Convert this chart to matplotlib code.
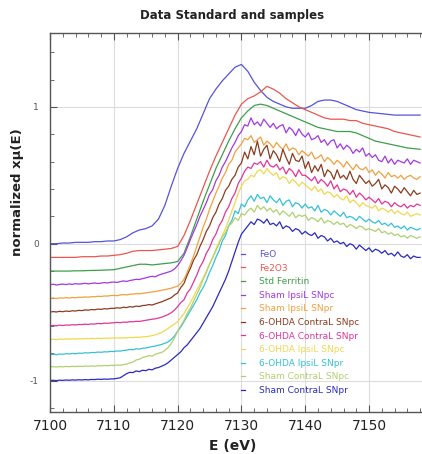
import numpy as np
import matplotlib
matplotlib.use("Agg")
import matplotlib.pyplot as plt
from matplotlib.ticker import MultipleLocator

plt.rcParams["axes.unicode_minus"] = False

# Energy grids (eV): standards read every 1 eV, samples every 0.5 eV
energy_std = np.arange(7100, 7159, 1.0)
energy_smp = np.arange(7100, 7158.5, 0.5)

feo = [0.000, 0.000, 0.005, 0.005, 0.010, 0.010, 0.010, 0.015, 0.015, 0.020,
       0.020, 0.030, 0.050, 0.080, 0.100, 0.110, 0.130, 0.180, 0.280, 0.420,
       0.550, 0.660, 0.750, 0.840, 0.950, 1.060, 1.130, 1.190, 1.240, 1.290,
       1.310, 1.260, 1.180, 1.120, 1.070, 1.040, 1.020, 1.000, 0.990, 0.990,
       0.990, 1.010, 1.040, 1.050, 1.050, 1.040, 1.020, 1.000, 0.980, 0.970,
       0.960, 0.955, 0.950, 0.945, 0.940, 0.940, 0.940, 0.940, 0.940]
fe2o3 = [-0.100, -0.100, -0.100, -0.100, -0.100, -0.095, -0.095, -0.095, -0.090, -0.090,
         -0.085, -0.080, -0.070, -0.055, -0.050, -0.050, -0.050, -0.045, -0.040, -0.035,
         -0.020, 0.060, 0.170, 0.290, 0.410, 0.530, 0.640, 0.740, 0.840, 0.940,
         1.020, 1.060, 1.080, 1.110, 1.150, 1.130, 1.100, 1.060, 1.030, 1.000,
         0.980, 0.960, 0.940, 0.920, 0.910, 0.910, 0.910, 0.900, 0.900, 0.880,
         0.870, 0.860, 0.850, 0.840, 0.820, 0.810, 0.800, 0.790, 0.780]
ferritin = [-0.200, -0.200, -0.200, -0.200, -0.198, -0.198, -0.196, -0.195, -0.194, -0.192,
            -0.190, -0.180, -0.170, -0.160, -0.150, -0.150, -0.155, -0.150, -0.145, -0.140,
            -0.130, -0.070, 0.050, 0.180, 0.310, 0.430, 0.550, 0.650, 0.750, 0.840,
            0.920, 0.970, 1.010, 1.020, 1.010, 0.990, 0.970, 0.950, 0.930, 0.910,
            0.890, 0.870, 0.850, 0.840, 0.830, 0.820, 0.820, 0.820, 0.810, 0.790,
            0.770, 0.750, 0.740, 0.730, 0.720, 0.710, 0.700, 0.695, 0.690]

sham_ipsi_snpc = [
    -0.300, -0.296, -0.302, -0.298, -0.295, -0.299, -0.294, -0.297, -0.292, -0.295,
    -0.293, -0.289, -0.294, -0.290, -0.287, -0.291, -0.288, -0.284, -0.287, -0.282,
    -0.280, -0.283, -0.277, -0.272, -0.276, -0.269, -0.265, -0.260, -0.262, -0.255,
    -0.250, -0.243, -0.238, -0.242, -0.230, -0.222, -0.215, -0.208, -0.200, -0.185,
    -0.160, -0.125, -0.085, -0.030, 0.030, 0.085, 0.140, 0.200, 0.250, 0.300,
    0.360, 0.395, 0.460, 0.500, 0.560, 0.600, 0.650, 0.700, 0.740, 0.790,
    0.820, 0.870, 0.860, 0.920, 0.870, 0.890, 0.860, 0.910, 0.880, 0.850,
    0.880, 0.840, 0.860, 0.870, 0.810, 0.850, 0.830, 0.790, 0.840, 0.800,
    0.780, 0.810, 0.760, 0.770, 0.790, 0.740, 0.760, 0.720, 0.750, 0.760,
    0.700, 0.730, 0.690, 0.720, 0.700, 0.660, 0.690, 0.670, 0.700, 0.640,
    0.660, 0.630, 0.650, 0.610, 0.600, 0.640, 0.590, 0.620, 0.580, 0.610,
    0.600, 0.590, 0.620, 0.580, 0.610, 0.600, 0.590]
sham_ipsi_snpr = [
    -0.400, -0.397, -0.401, -0.396, -0.398, -0.394, -0.397, -0.393, -0.395, -0.391,
    -0.392, -0.389, -0.391, -0.387, -0.388, -0.384, -0.386, -0.382, -0.383, -0.379,
    -0.378, -0.380, -0.375, -0.372, -0.374, -0.370, -0.368, -0.365, -0.366, -0.362,
    -0.360, -0.356, -0.352, -0.350, -0.345, -0.340, -0.336, -0.330, -0.325, -0.318,
    -0.310, -0.290, -0.260, -0.210, -0.150, -0.090, -0.020, 0.050, 0.120, 0.180,
    0.250, 0.310, 0.370, 0.420, 0.480, 0.520, 0.580, 0.610, 0.670, 0.700,
    0.730, 0.770, 0.760, 0.790, 0.740, 0.760, 0.780, 0.720, 0.750, 0.730,
    0.700, 0.740, 0.710, 0.690, 0.730, 0.680, 0.700, 0.690, 0.650, 0.680,
    0.660, 0.640, 0.670, 0.620, 0.630, 0.650, 0.600, 0.630, 0.610, 0.580,
    0.610, 0.590, 0.560, 0.600, 0.570, 0.540, 0.580, 0.550, 0.540, 0.560,
    0.520, 0.540, 0.500, 0.530, 0.510, 0.480, 0.520, 0.490, 0.500, 0.480,
    0.500, 0.470, 0.490, 0.500, 0.480, 0.470, 0.490]
ohda_contra_snpc = [
    -0.500, -0.496, -0.499, -0.494, -0.497, -0.492, -0.495, -0.490, -0.492, -0.487,
    -0.489, -0.484, -0.486, -0.481, -0.483, -0.478, -0.480, -0.475, -0.477, -0.472,
    -0.473, -0.468, -0.471, -0.464, -0.467, -0.460, -0.463, -0.456, -0.459, -0.452,
    -0.450, -0.445, -0.448, -0.440, -0.432, -0.425, -0.415, -0.405, -0.395, -0.375,
    -0.360, -0.320, -0.290, -0.230, -0.180, -0.120, -0.080, -0.020, 0.030, 0.090,
    0.130, 0.190, 0.230, 0.290, 0.330, 0.390, 0.420, 0.470, 0.500, 0.560,
    0.590, 0.670, 0.620, 0.710, 0.650, 0.750, 0.640, 0.690, 0.720, 0.620,
    0.680, 0.650, 0.600, 0.690, 0.630, 0.580, 0.660, 0.610, 0.600, 0.640,
    0.550, 0.600, 0.520, 0.570, 0.530, 0.580, 0.490, 0.540, 0.520, 0.470,
    0.540, 0.480, 0.500, 0.470, 0.530, 0.470, 0.440, 0.500, 0.470, 0.440,
    0.460, 0.420, 0.440, 0.470, 0.400, 0.430, 0.410, 0.370, 0.420, 0.400,
    0.370, 0.410, 0.380, 0.350, 0.390, 0.360, 0.370]
ohda_contra_snpr = [
    -0.600, -0.597, -0.600, -0.595, -0.598, -0.594, -0.596, -0.592, -0.594, -0.590,
    -0.591, -0.588, -0.590, -0.586, -0.587, -0.583, -0.585, -0.581, -0.582, -0.579,
    -0.578, -0.575, -0.577, -0.573, -0.574, -0.570, -0.571, -0.567, -0.568, -0.564,
    -0.560, -0.556, -0.552, -0.549, -0.543, -0.537, -0.528, -0.518, -0.505, -0.485,
    -0.460, -0.430, -0.410, -0.360, -0.330, -0.280, -0.230, -0.170, -0.130, -0.070,
    -0.030, 0.030, 0.070, 0.130, 0.170, 0.230, 0.270, 0.330, 0.370, 0.440,
    0.480, 0.530, 0.560, 0.550, 0.590, 0.580, 0.600, 0.560, 0.610, 0.570,
    0.560, 0.580, 0.540, 0.560, 0.510, 0.550, 0.530, 0.490, 0.540, 0.500,
    0.500, 0.480, 0.460, 0.490, 0.440, 0.470, 0.450, 0.420, 0.460, 0.400,
    0.430, 0.380, 0.400, 0.390, 0.360, 0.390, 0.340, 0.370, 0.350, 0.320,
    0.340, 0.320, 0.300, 0.330, 0.290, 0.310, 0.300, 0.270, 0.300, 0.280,
    0.270, 0.290, 0.260, 0.280, 0.270, 0.290, 0.280]
ohda_ipsi_snpc = [
    -0.700, -0.698, -0.701, -0.697, -0.699, -0.696, -0.698, -0.695, -0.697, -0.694,
    -0.696, -0.693, -0.695, -0.692, -0.694, -0.691, -0.693, -0.690, -0.692, -0.689,
    -0.690, -0.688, -0.690, -0.687, -0.688, -0.685, -0.686, -0.683, -0.684, -0.681,
    -0.680, -0.676, -0.672, -0.666, -0.658, -0.648, -0.635, -0.620, -0.603, -0.588,
    -0.570, -0.540, -0.510, -0.470, -0.430, -0.385, -0.340, -0.295, -0.250, -0.200,
    -0.150, -0.100, -0.040, 0.010, 0.060, 0.110, 0.170, 0.240, 0.300, 0.370,
    0.420, 0.460, 0.470, 0.500, 0.490, 0.530, 0.540, 0.510, 0.550, 0.520,
    0.500, 0.520, 0.470, 0.490, 0.480, 0.440, 0.470, 0.450, 0.420, 0.450,
    0.430, 0.410, 0.390, 0.420, 0.380, 0.400, 0.360, 0.380, 0.370, 0.340,
    0.360, 0.330, 0.320, 0.350, 0.300, 0.320, 0.300, 0.270, 0.300, 0.280,
    0.270, 0.260, 0.280, 0.240, 0.260, 0.250, 0.230, 0.250, 0.220, 0.240,
    0.220, 0.210, 0.230, 0.200, 0.210, 0.220, 0.210]
ohda_ipsi_snpr = [
    -0.810, -0.808, -0.811, -0.806, -0.808, -0.804, -0.806, -0.802, -0.804, -0.800,
    -0.801, -0.797, -0.799, -0.795, -0.796, -0.792, -0.794, -0.790, -0.791, -0.787,
    -0.788, -0.784, -0.785, -0.780, -0.778, -0.773, -0.775, -0.768, -0.770, -0.764,
    -0.762, -0.757, -0.752, -0.748, -0.742, -0.736, -0.728, -0.718, -0.700, -0.675,
    -0.640, -0.610, -0.570, -0.530, -0.490, -0.450, -0.410, -0.360, -0.320, -0.270,
    -0.210, -0.160, -0.100, -0.050, 0.020, 0.060, 0.130, 0.170, 0.240, 0.220,
    0.290, 0.270, 0.320, 0.350, 0.310, 0.360, 0.330, 0.340, 0.300, 0.350,
    0.320, 0.300, 0.330, 0.280, 0.310, 0.320, 0.270, 0.300, 0.290, 0.260,
    0.290, 0.260, 0.270, 0.240, 0.280, 0.230, 0.250, 0.240, 0.210, 0.240,
    0.220, 0.200, 0.230, 0.190, 0.200, 0.190, 0.170, 0.200, 0.180, 0.160,
    0.180, 0.160, 0.150, 0.170, 0.140, 0.150, 0.130, 0.150, 0.120, 0.130,
    0.110, 0.130, 0.100, 0.120, 0.110, 0.100, 0.110]
sham_contra_snpc = [
    -0.900, -0.899, -0.901, -0.898, -0.900, -0.897, -0.899, -0.896, -0.898, -0.895,
    -0.897, -0.894, -0.896, -0.893, -0.895, -0.892, -0.893, -0.890, -0.892, -0.889,
    -0.890, -0.887, -0.888, -0.884, -0.880, -0.872, -0.865, -0.850, -0.845, -0.832,
    -0.825, -0.818, -0.822, -0.808, -0.800, -0.795, -0.780, -0.760, -0.730, -0.690,
    -0.640, -0.600, -0.560, -0.510, -0.470, -0.420, -0.370, -0.320, -0.260, -0.210,
    -0.150, -0.100, -0.050, 0.000, 0.050, 0.080, 0.130, 0.150, 0.190, 0.170,
    0.220, 0.210, 0.240, 0.260, 0.230, 0.280, 0.250, 0.270, 0.240, 0.260,
    0.230, 0.250, 0.210, 0.240, 0.220, 0.200, 0.230, 0.190, 0.210, 0.200,
    0.210, 0.170, 0.190, 0.180, 0.160, 0.190, 0.150, 0.170, 0.160, 0.140,
    0.160, 0.140, 0.150, 0.120, 0.140, 0.130, 0.110, 0.130, 0.120, 0.100,
    0.110, 0.100, 0.090, 0.110, 0.080, 0.090, 0.070, 0.080, 0.060, 0.070,
    0.050, 0.060, 0.040, 0.060, 0.050, 0.040, 0.050]
sham_contra_snpr = [
    -1.000, -0.998, -1.001, -0.997, -0.999, -0.996, -0.998, -0.995, -0.997, -0.994,
    -0.996, -0.993, -0.995, -0.992, -0.993, -0.990, -0.992, -0.989, -0.991, -0.988,
    -0.988, -0.984, -0.980, -0.965, -0.950, -0.940, -0.942, -0.930, -0.935, -0.925,
    -0.928, -0.918, -0.922, -0.910, -0.905, -0.895, -0.885, -0.870, -0.850, -0.830,
    -0.810, -0.790, -0.760, -0.740, -0.710, -0.680, -0.650, -0.620, -0.580, -0.540,
    -0.500, -0.460, -0.410, -0.360, -0.310, -0.260, -0.200, -0.130, -0.060, 0.010,
    0.070, 0.100, 0.130, 0.160, 0.140, 0.180, 0.170, 0.150, 0.180, 0.140,
    0.150, 0.130, 0.160, 0.110, 0.130, 0.120, 0.090, 0.110, 0.100, 0.070,
    0.090, 0.070, 0.060, 0.080, 0.040, 0.060, 0.050, 0.020, 0.040, 0.010,
    0.020, 0.000, 0.010, -0.020, 0.000, -0.010, -0.040, -0.010, -0.030, -0.050,
    -0.030, -0.060, -0.040, -0.050, -0.070, -0.050, -0.080, -0.070, -0.090, -0.060,
    -0.090, -0.100, -0.080, -0.110, -0.090, -0.100, -0.100]

labels = ["FeO", "Fe2O3", "Std Ferritin", "Sham IpsiL SNpc", "Sham IpsiL SNpr",
          "6-OHDA ContraL SNpc", "6-OHDA ContraL SNpr", "6-OHDA IpsiL SNpc",
          "6-OHDA IpsiL SNpr", "Sham ContraL SNpc", "Sham ContraL SNpr"]
colors = ["#5454d8", "#e8574f", "#3e9e4a", "#a238e0", "#f0a040", "#8a3c1e",
          "#e0359a", "#f0d850", "#35c0d8", "#b0d070", "#2a2ac0"]

series = [(energy_std, feo), (energy_std, fe2o3), (energy_std, ferritin),
          (energy_smp, sham_ipsi_snpc), (energy_smp, sham_ipsi_snpr),
          (energy_smp, ohda_contra_snpc), (energy_smp, ohda_contra_snpr),
          (energy_smp, ohda_ipsi_snpc), (energy_smp, ohda_ipsi_snpr),
          (energy_smp, sham_contra_snpc), (energy_smp, sham_contra_snpr)]

fig = plt.figure(figsize=(4.22, 4.54), dpi=100)
ax = fig.add_axes([50 / 422, 1 - 412 / 454, 1 - 50 / 422, (412 - 33) / 454])

for (e, mu), lab, c in zip(series, labels, colors):
    ax.plot(e, mu, color=c, lw=0.9, label=lab)

ax.set_xlim(7100, 7158.3)
ax.set_ylim(-1.23, 1.54)
ax.xaxis.set_major_locator(MultipleLocator(10))
ax.xaxis.set_minor_locator(MultipleLocator(2))
ax.yaxis.set_major_locator(MultipleLocator(1))
ax.yaxis.set_minor_locator(MultipleLocator(0.2))
ax.grid(True, which="major", color="#dcdcdc", lw=0.8)
ax.set_axisbelow(True)
ax.tick_params(which="both", direction="in", top=True, right=False, color="#555555")
ax.tick_params(which="major", length=5)
ax.tick_params(which="minor", length=3)
ax.tick_params(axis="x", labelsize=10, labelcolor="#222222", pad=5)
ax.tick_params(axis="y", labelsize=6.5, labelcolor="#555555", pad=8)
ax.spines["right"].set_visible(False)
for s in ["left", "top", "bottom"]:
    ax.spines[s].set_color("#555555")
    ax.spines[s].set_linewidth(1.0)

fig.text(232 / 422, 1 - 15 / 454, "Data Standard and samples", ha="center",
         va="center", fontsize=8.5, fontweight="bold", color="#222222")
fig.text(233 / 422, 1 - 446 / 454, "E (eV)", ha="center", va="center",
         fontsize=10, fontweight="bold", color="#222222")
fig.text(18 / 422, 1 - 192 / 454, "normalized x\u03bc(E)", ha="center", va="center",
         rotation=90, fontsize=9.5, fontweight="bold", color="#222222")

leg = ax.legend(loc="upper left", bbox_to_anchor=(241 / 422, 1 - 250 / 454),
                bbox_transform=fig.transFigure, frameon=False, fontsize=6.5,
                handlelength=0.4, handletextpad=1.6, labelspacing=0.51,
                borderaxespad=0, borderpad=0)
for txt, c in zip(leg.get_texts(), colors):
    txt.set_color(c)

fig.savefig("out.png", dpi=100)
